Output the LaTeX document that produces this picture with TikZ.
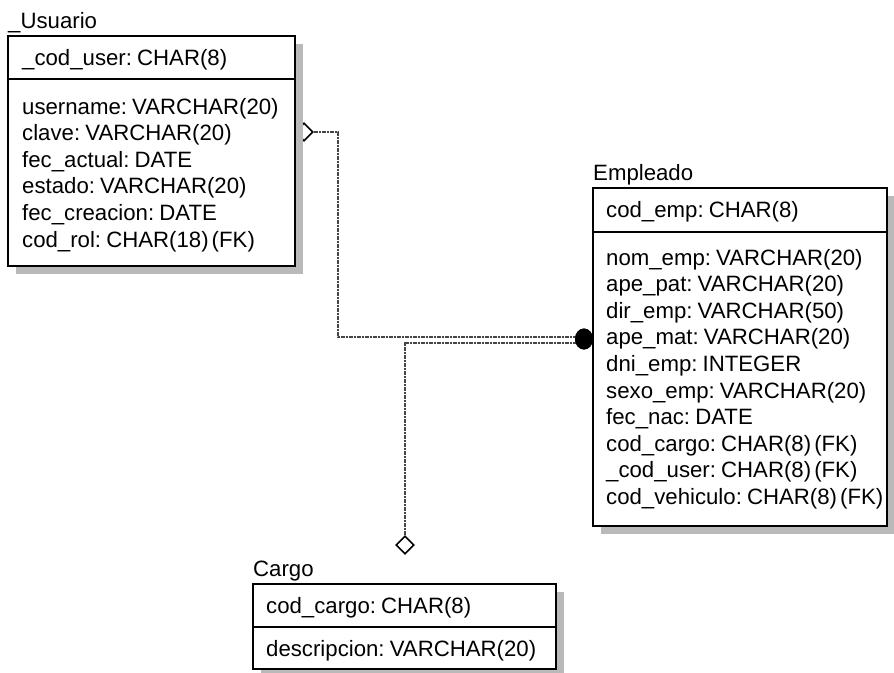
\documentclass[tikz,border=0pt]{standalone}
\usepackage{fontspec}
\setmainfont[WordSpace=0.5]{Liberation Sans}
\usetikzlibrary{shapes.geometric,shadows}
\begin{document}
\begin{tikzpicture}[x=1pt,y=-1pt,
  tbl/.style={draw=black,line width=1.6pt,fill=white,rectangle,anchor=north west,inner sep=0pt,
    drop shadow={shadow xshift=8pt,shadow yshift=-8pt,fill=gray!55,opacity=1}},
  sep/.style={draw=black,line width=1.6pt},
  fld/.style={anchor=base west,inner sep=0pt,font=\fontsize{22.2}{26}\selectfont},
  rel/.style={draw=gray!55!black,line width=1.3pt,dash pattern=on 1.2pt off 0.4pt},
  dia/.style={diamond,draw=black,fill=white,line width=1.6pt,minimum width=18pt,minimum height=18pt,inner sep=0pt},
  dotend/.style={ellipse,fill=black,minimum width=18pt,minimum height=21pt,inner sep=0pt}
]
\useasboundingbox (0,0) rectangle (894,672);
% connectors
\node[dia] (dU) at (304,132) {};
\node[dia] (dC) at (405,545) {};
\coordinate (b1) at (338,337);
\coordinate (b2) at (405,343);
\node[dotend] (dot) at (584,339) {};
\draw[rel] (dU.east) -| (b1) -- (b1 -| dot.center);
\draw[rel] (dC.north) -- (b2) -- (b2 -| dot.center);
\node[dotend] at (dot) {};
% Usuario
\node[fld] (tU) at (8,28) {\_Usuario};
\node[tbl,minimum width=287pt,minimum height=230pt] (usr) at (7,35) {};
\draw[sep] ([yshift=-44pt]usr.north west) -- ([yshift=-44pt]usr.north east);
\node[fld] (u0) at (22,65) {\_cod\_user: CHAR(8)};
\node[fld] (u1) at (22,114) {username: VARCHAR(20)};
\node[fld] (u2) at (22,140.6) {clave: VARCHAR(20)};
\node[fld] (u3) at (22,167.2) {fec\_actual: DATE};
\node[fld] (u4) at (22,193.8) {estado: VARCHAR(20)};
\node[fld] (u5) at (22,220.4) {fec\_creacion: DATE};
\node[fld] (u6) at (22,247) {cod\_rol: CHAR(18) (FK)};
% Empleado
\node[fld] (tE) at (593,180) {Empleado};
\node[tbl,minimum width=294pt,minimum height=338pt] (emp) at (592,187) {};
\draw[sep] ([yshift=-45pt]emp.north west) -- ([yshift=-45pt]emp.north east);
\node[fld] (e0) at (606,217) {cod\_emp: CHAR(8)};
\node[fld] (e1) at (606,265) {nom\_emp: VARCHAR(20)};
\node[fld] (e2) at (606,291.6) {ape\_pat: VARCHAR(20)};
\node[fld] (e3) at (606,318.2) {dir\_emp: VARCHAR(50)};
\node[fld] (e4) at (606,344.8) {ape\_mat: VARCHAR(20)};
\node[fld] (e5) at (606,371.4) {dni\_emp: INTEGER};
\node[fld] (e6) at (606,398) {sexo\_emp: VARCHAR(20)};
\node[fld] (e7) at (606,424.6) {fec\_nac: DATE};
\node[fld] (e8) at (606,451.2) {cod\_cargo: CHAR(8) (FK)};
\node[fld] (e9) at (606,477.8) {\_cod\_user: CHAR(8) (FK)};
\node[fld] (e10) at (606,504.4) {cod\_vehiculo: CHAR(8) (FK)};
% Cargo
\node[fld] (tC) at (253,576) {Cargo};
\node[tbl,minimum width=303pt,minimum height=85pt] (car) at (252,583) {};
\draw[sep] ([yshift=-44pt]car.north west) -- ([yshift=-44pt]car.north east);
\node[fld] (c0) at (266,613) {cod\_cargo: CHAR(8)};
\node[fld] (c1) at (266,656) {descripcion: VARCHAR(20)};
\end{tikzpicture}
\end{document}
